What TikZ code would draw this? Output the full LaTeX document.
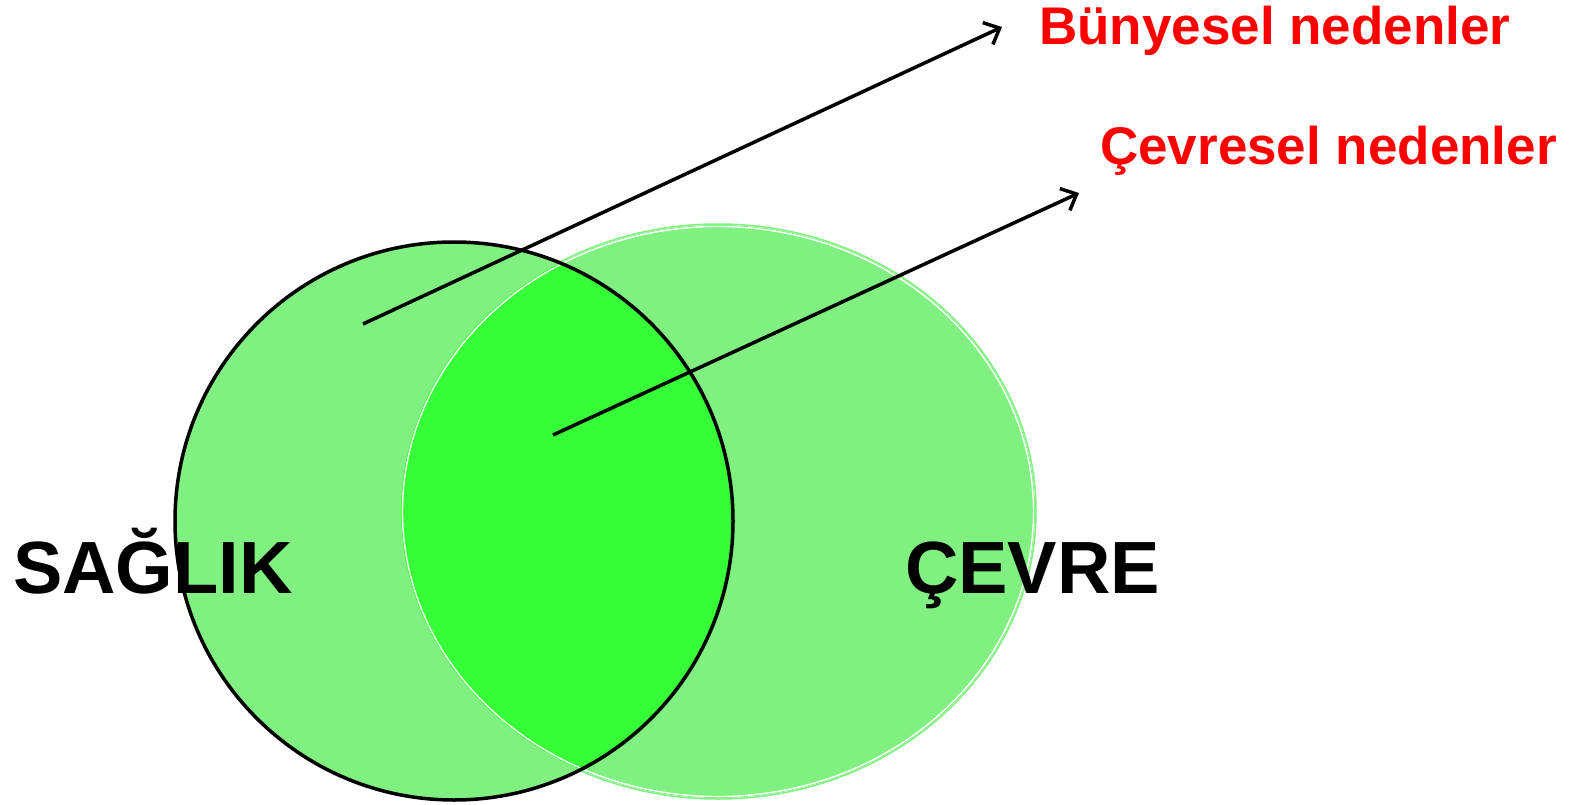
\documentclass[tikz,border=0pt]{standalone}
\usepackage{fontspec}
\setmainfont{Liberation Sans}
\usetikzlibrary{arrows.meta}
\definecolor{lgreen}{RGB}{128,240,128}
\definecolor{bgreen}{RGB}{55,255,55}
\definecolor{lred}{RGB}{255,0,0}
\tikzset{
  lbl/.style={inner sep=0pt, anchor=base west, font=\bfseries\fontsize{74}{80}\selectfont, text=black},
  redlbl/.style={inner sep=0pt, anchor=base west, font=\bfseries\fontsize{53}{58}\selectfont, text=lred},
  arr/.style={line width=3.5pt, -{Straight Barb[length=13pt,width=24pt,line width=3.5pt]}}
}
\begin{document}
\begin{tikzpicture}[x=1pt,y=-1pt]
\useasboundingbox (0,0) rectangle (1574,805);
% fills
\fill[lgreen] (454,521) ellipse [x radius=280, y radius=280];
\fill[lgreen] (718,511.5) ellipse [x radius=317, y radius=286.5];
\begin{scope}
  \clip (454,521) ellipse [x radius=280, y radius=280];
  \fill[bgreen] (718,511.5) ellipse [x radius=317, y radius=286.5];
\end{scope}
% right ellipse outline
\draw[lgreen, line width=1.5pt] (718,511.5) ellipse [x radius=318, y radius=287.5];
\draw[white, line width=1.4pt] (718,511.5) ellipse [x radius=315.5, y radius=285];
% left circle outline
\draw[black, line width=3.5pt] (454,521) ellipse [x radius=279, y radius=279];
% labels
\node[lbl] (saglik) at (13,593) {SAĞLIK};
\node[lbl] (cevre) at (905,593) {ÇEVRE};
\node[redlbl] (bun) at (1039,45) {Bünyesel nedenler};
\node[redlbl] (cev) at (1100,165) {Çevresel nedenler};
% arrows
\coordinate (a1s) at (363,324);
\coordinate (a1e) at (1002,27);
\coordinate (a2s) at (553,435);
\coordinate (a2e) at (1079,193);
\draw[arr] (a1s) -- (a1e);
\draw[arr] (a2s) -- (a2e);
\end{tikzpicture}
\end{document}
